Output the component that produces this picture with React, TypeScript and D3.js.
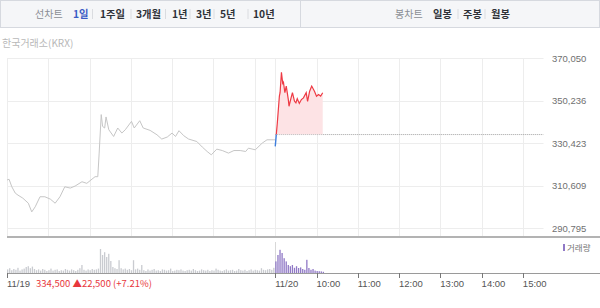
import React from "react";
import * as d3 from "d3";

// ---------- data ----------
const prevMinutes = [0,3,7,12,16,23,31,36,41,48,55,63,70,77,84,92,99,109,116,128,132,134,137,139,142,144,148,155,161,167,172,181,185,193,198,208,218,225,233,240,245,250,257,264,276,284,291,297,305,313,322,330,339,347,351,361,371,378,388,390];
const prevPrices = [313300,313650,310150,307200,306250,304850,302500,298450,300800,305500,305500,304400,302500,305500,310150,309550,310500,312500,311750,314850,314850,325850,343800,338300,337550,342700,336750,333600,337550,335200,336750,340650,337550,340950,337550,336450,334400,332400,333350,335200,333600,336300,333950,332400,331250,328650,326600,325050,327700,327050,325850,327050,327050,326600,328150,327400,330500,332050,332050,332050];

const curMinutes = [0,3,6,7,9,11,12,14,16,19,20,23,25,28,30,32,35,38,41,45,47,50,53,57,60,63,66,69];
const curPrices = [329000,339900,352400,354000,363500,357900,358700,354000,357100,350800,347700,351600,354000,350000,349300,351200,349000,350800,351600,354000,350000,354700,357100,354700,352400,353200,352400,354000];

const prevClose = 334500;

// volume per 3 minutes
const prevVolume = [
  900,1200,700,1000,800,1300,600,900,1100,
  1500,1700,1200,1600,1000,
  700,900,600,1000,800,500,700,1100,600,800,900,500,700,600,1000,800,600,900,700,500,800,1200,
  2000,
  800,600,900,700,1000,800,900,1100,
  6000,4500,5200,4000,4800,3000,
  1500,1200,1000,
  3200,
  1200,900,1100,800,1000,700,
  3200,
  900,1100,800,
  2000,
  700,500,900,600,800,1000,600,700,500,900,
  800,600,700,1100,500,600,800,700,900,600,
  500,700,800,600,1000,700,500,600,900,700,
  600,800,500,700,600,1100,800,600,500,700,
  900,600,700,800,500,600,1000,700,600,800,
  500,700,900,600,800,700,600,1200,800,700,
  900,1000,800,1300
];
const curVolume = [2900,4500,5800,5000,3700,2900,2000,1700,2000,1300,1700,1250,1400,1000,800,3300,1250,800,1000,600,500,450,400,300];

const yTicks = [290795, 310609, 330423, 350236, 370050];
const xTickIdx = [0, 390, 450, 510, 570, 630, 690, 750];
const xTickLabels = ["11/19", "11/20", "10:00", "11:00", "12:00", "13:00", "14:00", "15:00"];
const gridIdx = [0, 60, 120, 180, 240, 300, 360, 390, 450, 510, 570, 630, 690, 750];

const leftMenu = [
  { t: "선차트", x: 35, kind: "title" },
  { t: "1일", x: 73, kind: "active" },
  { t: "1주일", x: 100, kind: "item" },
  { t: "3개월", x: 136, kind: "item" },
  { t: "1년", x: 172, kind: "item" },
  { t: "3년", x: 196, kind: "item" },
  { t: "5년", x: 220, kind: "item" },
  { t: "10년", x: 253, kind: "item" },
];
const leftSeps = [92.5, 131, 165.5, 190, 214, 248];
const rightMenu = [
  { t: "봉차트", x: 395, kind: "title" },
  { t: "일봉", x: 433, kind: "item" },
  { t: "주봉", x: 463, kind: "item" },
  { t: "월봉", x: 491, kind: "item" },
];
const rightSeps = [458, 485];

const summaryText = "334,500 ▲22,500 (+7.21%)";

export default function App() {
  const W = 600, H = 308;
  const x = d3.scaleLinear().domain([0, 780]).range([7, 543.5]);
  const y = d3.scaleLinear().domain([290795, 370050]).range([228.3, 58.3]);
  const vy = d3.scaleLinear().domain([0, 6000]).range([273, 249]);

  const prevData = prevMinutes.map((m, i) => ({ i: m, v: prevPrices[i] }));
  const curData = curMinutes.map((m, i) => ({ i: 390 + m, v: curPrices[i] }));

  const line = d3.line<{ i: number; v: number }>().x(d => x(d.i)).y(d => y(d.v));
  const area = d3.area<{ i: number; v: number }>().x(d => x(d.i)).y0(y(prevClose)).y1(d => y(d.v));

  const refY = y(prevClose);
  const font = "'Liberation Sans', Arial, sans-serif";
  const kfont = "'Noto Sans CJK KR', 'Noto Sans', sans-serif";

  return (
    <div style={{ position: "fixed", left: 0, top: 0, width: W, height: H, background: "#fff" }}>
      <svg width={W} height={H} style={{ display: "block" }}>
        <defs>
          <clipPath id="above"><rect x={0} y={0} width={W} height={refY} /></clipPath>
          <clipPath id="below"><rect x={0} y={refY} width={W} height={H} /></clipPath>
        </defs>
        {/* top menu */}
        <rect x={0.5} y={0.5} width={300} height={27} fill="#f5f6f8" stroke="#d6d9df" />
        <rect x={300.5} y={0.5} width={299} height={27} fill="#f5f6f8" stroke="#d6d9df" />
        {leftMenu.concat(rightMenu).map((m, k) => (
          <text key={"m" + k} x={m.x} y={18} fontFamily={kfont} fontSize={m.kind === "title" ? 10 : 10.3}
            fontWeight={m.kind === "title" ? 400 : 700}
            fill={m.kind === "title" ? "#8a8d94" : m.kind === "active" ? "#3a5cc5" : "#2f3238"}>{m.t}</text>
        ))}
        {leftSeps.concat(rightSeps).map((sx, k) => (
          <line key={"s" + k} x1={sx} x2={sx} y1={9} y2={19} stroke="#dadce0" />
        ))}
        <text x={2} y={47} fontFamily={kfont} fontSize={10} fill="#b8b8b8">한국거래소(KRX)</text>

        {/* grid */}
        {yTicks.map((t, k) => (
          <line key={"gy" + k} x1={7} x2={543.5} y1={Math.round(y(t)) + 0.5} y2={Math.round(y(t)) + 0.5} stroke="#ededed" />
        ))}
        {gridIdx.map((g, k) => (
          <line key={"gx" + k} x1={Math.round(x(g)) + 0.5} x2={Math.round(x(g)) + 0.5} y1={58.5} y2={236} stroke="#ededed" />
        ))}
        {yTicks.map((t, k) => (
          <text key={"yl" + k} x={552} y={y(t) + 3.5} fontFamily={font} fontSize={9.5} fill="#707070">{d3.format(",")(t)}</text>
        ))}

        {/* reference line */}
        <line x1={x(390)} x2={543.5} y1={refY} y2={refY} stroke="#a0a0a0" strokeDasharray="1,1" />

        {/* previous day line */}
        <path d={line(prevData) || ""} fill="none" stroke="#c6c6c6" strokeWidth={1} />
        {/* today */}
        <path d={area(curData) || ""} fill="#fde3e5" clipPath="url(#above)" />
        <path d={line(curData) || ""} fill="none" stroke="#ee3a44" strokeWidth={1.2} clipPath="url(#above)" />
        <path d={line(curData) || ""} fill="none" stroke="#3f7fdc" strokeWidth={1.4} clipPath="url(#below)" />

        {/* panel separator */}
        <line x1={7} x2={600} y1={237} y2={237} stroke="#b3b3b3" strokeWidth={2} />

        {/* volume */}
        <line x1={Math.round(x(390)) + 0.5} x2={Math.round(x(390)) + 0.5} y1={242} y2={273} stroke="#d8d8d8" />
        {prevVolume.map((v, k) => (
          <rect key={"pv" + k} x={x(k * 3)} y={vy(v)} width={1.3} height={273 - vy(v)} fill="#c9cbd0" />
        ))}
        {curVolume.map((v, k) => (
          <rect key={"cv" + k} x={x(390 + k * 3)} y={vy(v)} width={1.3} height={273 - vy(v)} fill="#9079c6" />
        ))}
        <line x1={7} x2={600} y1={273.5} y2={273.5} stroke="#9a9a9a" />
        <rect x={563} y={244} width={2} height={7} fill="#9079c6" />
        <text x={567} y={251} fontFamily={kfont} fontSize={8.5} fill="#777">거래량</text>

        {/* x ticks */}
        {xTickIdx.map((t, k) => (
          <g key={"xt" + k}>
            <line x1={Math.round(x(t)) + 0.5} x2={Math.round(x(t)) + 0.5} y1={273} y2={278} stroke="#777" />
            <text x={x(t)} y={287} fontFamily={font} fontSize={9.5} fill="#555">{xTickLabels[k]}</text>
          </g>
        ))}
        <text x={36} y={287} fontFamily={kfont} fontSize={9.5} fill="#e8383d">{summaryText}</text>
      </svg>
    </div>
  );
}
